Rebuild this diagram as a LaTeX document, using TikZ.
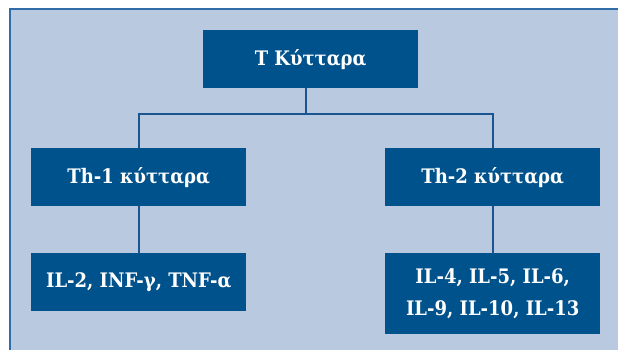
\documentclass[tikz,border=0pt]{standalone}
\usepackage{fontspec}
\setmainfont{DejaVu Serif Condensed}[BoldFont={DejaVu Serif Condensed Bold}]
\definecolor{panel}{HTML}{B9C9E0}
\definecolor{panelborder}{HTML}{2F6CA8}
\definecolor{boxblue}{HTML}{00528C}
\definecolor{linkblue}{HTML}{1A5590}
\tikzset{
  cellbox/.style={fill=boxblue, draw=none, text=white, align=center,
    font=\bfseries\fontsize{20}{32}\selectfont, inner sep=0pt, anchor=north west},
  link/.style={draw=linkblue, line width=1.8pt}
}
\begin{document}
\begin{tikzpicture}[x=1pt,y=-1pt]
\useasboundingbox (0,0) rectangle (618,350);
\fill[white] (0,0) rectangle (618,350);
\fill[panel] (10,9) rectangle (618,350);
\draw[panelborder, line width=1.5pt] (10,350) -- (10,9) -- (618,9);
\node[cellbox, minimum width=215pt, minimum height=58pt] (t) at (203,30) {Τ Κύτταρα};
\node[cellbox, minimum width=215pt, minimum height=58pt] (th1) at (31,148) {Th-1 κύτταρα};
\node[cellbox, minimum width=215pt, minimum height=58pt] (th2) at (385,148) {Th-2 κύτταρα};
\node[cellbox, minimum width=215pt, minimum height=58pt] (c1) at (31,253) {IL-2, INF-γ, TNF-α};
\node[cellbox, minimum width=215pt, minimum height=81pt] (c2) at (385,253) {IL-4, IL-5, IL-6,\\IL-9, IL-10, IL-13};
\coordinate (j) at ([xshift=-5pt]t.south);
\draw[link] (j) -- ++(0,26) -| (th1.north);
\draw[link] (j) -- ++(0,26) -| (th2.north);
\draw[link] (th1.south) -- (c1.north);
\draw[link] (th2.south) -- (c2.north);
\end{tikzpicture}
\end{document}
